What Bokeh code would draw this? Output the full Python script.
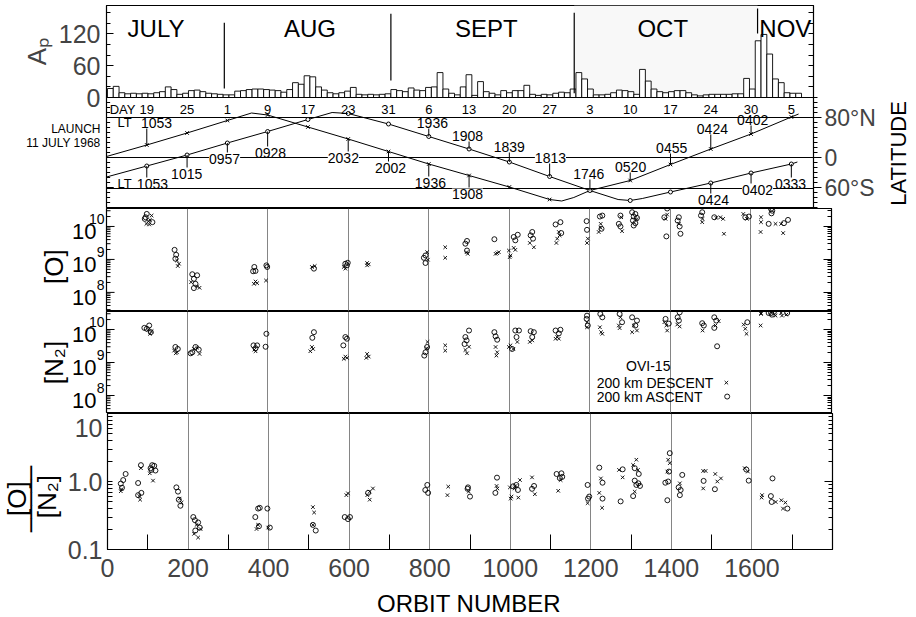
import math
from bokeh.plotting import figure
from bokeh.models import (ColumnDataSource, FixedTicker, LinearAxis, LogAxis, LabelSet,
                          Range1d, CustomJSTickFormatter, BoxAnnotation, Span)
from bokeh.layouts import column, row
from bokeh.embed import file_html
from bokeh.resources import INLINE
from bokeh.core.properties import value

FONT = "Liberation Sans"

# ---------------- data: daily Ap index (one bar per day since launch) ----------------
ap_daily = [17, 21, 9, 7, 8, 7, 8, 7, 9, 11,
            20, 15, 6, 8, 13, 14, 11, 8, 7, 6,
            5, 5, 12, 13, 15, 16, 16, 15, 14, 13,
            10, 15, 28, 25, 41, 39, 20, 14, 9, 7,
            9, 12, 19, 6, 5, 6, 5, 6, 7, 15,
            13, 11, 18, 14, 13, 19, 20, 47, 16, 8,
            5, 20, 43, 4, 30, 11, 8, 5, 13, 9,
            13, 13, 23, 6, 4, 6, 5, 8, 10, 9,
            16, 47, 35, 16, 5, 5, 6, 9, 14, 13,
            11, 6, 53, 31, 16, 11, 9, 11, 13, 13,
            9, 5, 3, 5, 6, 6, 6, 6, 7, 7,
            36, 16, 107, 119, 82, 35, 28, 9, 8, 8]
month_names = ["JULY", "AUG", "SEPT", "OCT", "NOV"]
month_label_day = [8.4, 35.0, 65.5, 96.0, 117.2]
month_boundary_day = [20.2, 49.0, 80.7, 112.4]
month_line_low = [17, 32, 8, 121]
month_line_high = [141, 158, 160, 168]

# ---------------- data: perigee latitude / local time panel ----------------
day_tick_orbit = [100, 200, 300, 400, 500, 600, 700, 800, 900, 1000, 1100, 1200, 1300, 1400, 1500, 1600, 1700]
day_tick_label = ["19", "25", "1", "9", "17", "23", "31", "6", "13", "20", "27", "3", "10", "17", "24", "30", "5"]

curve_a_orbit = [0, 100, 200, 300, 360, 400, 500, 600, 700, 800, 900, 1000, 1100, 1130, 1160, 1200, 1300, 1400, 1500, 1600, 1700, 1718]
curve_a_lat = [2, 25, 49, 74, 89, 85, 61, 37, 12, -13, -36, -59, -84, -87, -80, -66, -46, -14, 17, 47, 81, 87]
curve_b_orbit = [0, 100, 200, 300, 400, 500, 560, 600, 700, 800, 900, 1000, 1100, 1200, 1270, 1300, 1330, 1400, 1500, 1600, 1700, 1715]
curve_b_lat = [-39, -17, 5, 29, 52, 76, 90, 88, 67, 42, 17, -9, -38, -66, -84, -86, -82, -69, -51, -31, -13, -9]

lt_text = ["1053", "1053", "1015", "0957", "0928", "2032", "2002", "1936", "1936", "1908", "1908",
           "1839", "1813", "1746", "0520", "0455", "0424", "0402", "0424", "0402", "0333"]
lt_orbit = [124, 114, 199, 293, 407, 588, 705, 804, 809, 896, 896, 1000, 1102, 1197, 1301, 1403, 1504, 1604, 1507, 1616, 1698]
lt_lat = [70, -52, -32, -2, 10, 0, -20, -50, 70, 44, -72, 22, 0, -32, -18, 20, 58, 76, -84, -64, -52]
lt_curve = ["A", "B", "B", "B", "B", "A", "A", "A", "B", "B", "A", "B", "B", "B", "A", "A", "A", "A", "B", "B", "B"]
lt_point = [100, 100, 200, 300, 400, 600, 700, 800, 800, 900, 900, 1000, 1100, 1200, 1300, 1400, 1500, 1600, 1500, 1600, 1700]
lt_on_line = [False, False, False, True, False, True, False, False, False, False, True,
              False, True, False, False, False, False, False, False, True, False]
ref_lat = [80, 0, -62]
lat_major = [-60, 0, 80]
lat_minor = list(range(-100, 121, 10))

# ---------------- data: [O] density (cm^-3) ----------------
o_asc_orbit = [100, 97, 95, 114, 169, 173, 171, 213, 225, 217, 221, 217, 367, 370, 364, 397, 399, 515, 593, 597, 599,
               792, 788, 792, 895, 891, 895, 963, 1011, 1021, 1015, 1057, 1053, 1059, 1115, 1127, 1129, 1192, 1193,
               1225, 1231, 1229, 1276, 1272, 1276, 1305, 1313, 1309, 1317, 1307, 1313, 1309, 1392, 1385, 1390,
               1421, 1418, 1423, 1425, 1479, 1476, 1509, 1586, 1595, 1644, 1650, 1653, 1651, 1682, 1692]
o_asc = [2.4e10, 1.9e10, 1.7e10, 1.35e10, 1.95e9, 1.38e9, 1.05e9, 3.55e8, 3.3e8, 2.57e8, 1.82e8, 1.35e8, 5.9e8, 4.47e8,
         4.37e8, 6.6e8, 5.9e8, 5.25e8, 7.4e8, 6.6e8, 7.9e8, 1.32e9, 1.12e9, 7.8e8, 3.63e9, 3.0e9, 1.86e9, 4.1e9, 4.8e9,
         5.6e9, 3.8e9, 6.8e9, 5.37e9, 4.27e9, 1.15e10, 1.35e10, 6.3e9, 1.45e10, 7.9e9, 2.0e10, 2.14e10, 8.5e9, 2.14e10,
         1.2e10, 1.0e10, 2.7e10, 2.4e10, 2.0e10, 1.82e10, 1.51e10, 1.26e10, 1.07e10, 3.5e10, 1.9e10, 5.0e9, 1.9e10,
         1.51e10, 1.0e10, 6.0e9, 2.7e10, 2.14e10, 1.9e10, 1.9e10, 2.0e10, 1.2e10, 3.4e10, 3.0e10, 2.5e10, 1.26e10, 1.58e10]
o_desc_orbit = [112, 104, 108, 99, 106, 175, 180, 177, 210, 225, 231, 370, 374, 366, 396, 510, 517, 589, 593, 647, 651,
                647, 796, 798, 841, 841, 894, 897, 966, 970, 974, 999, 1003, 1001, 1011, 1015, 1051, 1061, 1123, 1125,
                1119, 1117, 1195, 1193, 1227, 1227, 1222, 1278, 1280, 1316, 1392, 1388, 1421, 1480, 1479, 1514, 1524,
                1531, 1533, 1581, 1590, 1625, 1625, 1624, 1661, 1675, 1680]
o_desc = [2.14e10, 1.45e10, 1.58e10, 1.2e10, 1.15e10, 9.3e8, 7.4e8, 6.3e8, 2.04e8, 1.51e8, 1.38e8, 2.14e8, 1.9e8, 1.82e8,
          2.29e8, 5.9e8, 6.3e8, 5.9e8, 5.25e8, 7.8e8, 7.1e8, 6.6e8, 1.66e9, 9.8e8, 2.34e9, 1.12e9, 1.66e9, 1.48e9,
          1.48e9, 1.55e9, 1.66e9, 1.86e9, 1.32e9, 1.17e9, 2.24e9, 1.95e9, 3.16e9, 2.34e9, 6.8e9, 5.37e9, 4.27e9, 3.16e9,
          4.27e9, 3.16e9, 1.2e10, 9.1e9, 6.8e9, 1.9e10, 7.2e9, 1.66e10, 2.29e10, 1.7e10, 1.2e10, 1.7e10, 1.35e10,
          1.82e10, 1.9e10, 1.7e10, 6.0e9, 2.4e10, 1.7e10, 1.9e10, 1.35e10, 6.8e9, 1.2e10, 1.2e10, 6.3e9]

# ---------------- data: [N2] density (cm^-3) ----------------
n2_asc_orbit = [106, 100, 110, 94, 171, 177, 213, 221, 229, 209, 365, 374, 370, 397, 395, 515, 511, 593, 597, 588, 796,
                792, 789, 900, 891, 894, 889, 963, 966, 970, 1015, 1024, 1018, 1007, 1053, 1061, 1057, 1115, 1127, 1123,
                1193, 1192, 1195, 1226, 1231, 1274, 1280, 1305, 1317, 1313, 1388, 1396, 1423, 1418, 1421, 1479, 1483,
                1509, 1514, 1509, 1516, 1591, 1644, 1650, 1652, 1657, 1690]
n2_asc = [1.32e10, 1.05e10, 8.3e9, 1.12e10, 2.95e9, 2.57e9, 2.04e9, 2.95e9, 2.45e9, 1.9e9, 3.3e9, 3.3e9, 2.7e9, 7.4e9,
          3.0e9, 8.3e9, 5.6e9, 5.9e9, 5.25e9, 3.3e9, 2.95e9, 2.04e9, 1.62e9, 9.3e9, 5.9e9, 4.68e9, 3.63e9, 8.3e9, 6.2e9,
          4.9e9, 9.3e9, 9.3e9, 5.9e9, 2.57e9, 8.9e9, 8.3e9, 5.9e9, 9.3e9, 9.8e9, 7.6e9, 2.63e10, 2.09e10, 1.32e10,
          2.95e10, 2.34e10, 2.95e10, 1.66e10, 2.34e10, 1.86e10, 1.32e10, 2.09e10, 1.51e10, 3.3e10, 2.34e10, 1.86e10,
          1.55e10, 1.32e10, 2.34e10, 1.86e10, 1.12e10, 3.1e9, 1.66e10, 3.16e10, 3.16e10, 2.82e10, 3.4e10, 3.16e10]
n2_desc_orbit = [104, 108, 112, 168, 175, 172, 217, 225, 231, 367, 370, 510, 506, 513, 593, 597, 589, 647, 651, 645, 797,
                 795, 841, 841, 891, 895, 900, 966, 970, 968, 1003, 1010, 999, 1020, 1051, 1057, 1119, 1123, 1115, 1193,
                 1193, 1225, 1228, 1231, 1276, 1272, 1274, 1309, 1305, 1317, 1385, 1390, 1392, 1423, 1417, 1480, 1520,
                 1512, 1582, 1586, 1589, 1625, 1625, 1624, 1661, 1675, 1677, 1688]
n2_desc = [9.8e9, 7.4e9, 8.9e9, 2.29e9, 2.04e9, 1.9e9, 2.57e9, 2.82e9, 1.82e9, 2.45e9, 2.19e9, 2.95e9, 2.19e9, 2.57e9,
           1.51e9, 1.38e9, 1.29e9, 1.82e9, 1.51e9, 1.38e9, 4.2e9, 2.7e9, 3.3e9, 2.29e9, 2.4e9, 1.9e9, 3.0e9, 2.95e9,
           2.04e9, 1.62e9, 3.3e9, 2.57e9, 2.95e9, 4.2e9, 4.2e9, 4.68e9, 5.9e9, 5.25e9, 5.25e9, 1.66e10, 1.17e10,
           1.17e10, 8.3e9, 7.4e9, 2.34e10, 1.32e10, 1.1e10, 1.32e10, 8.3e9, 9.3e9, 1.66e10, 1.32e10, 9.3e9, 1.23e10,
           1.41e10, 9.3e9, 1.78e10, 1.32e10, 1.41e10, 1.05e10, 7.4e9, 3.16e10, 2.95e10, 1.32e10, 2.63e10, 3.16e10,
           2.63e10, 2.82e10]

# ---------------- data: [O]/[N2] ratio ----------------
ratio_asc_orbit = [33, 39, 45, 36, 83, 76, 84, 76, 111, 116, 107, 119, 109, 171, 175, 177, 181, 213, 217, 225, 229, 218,
                   374, 378, 367, 376, 397, 403, 510, 517, 589, 597, 602, 647, 794, 789, 796, 895, 894, 900, 967, 963,
                   1015, 1019, 1007, 1059, 1054, 1115, 1127, 1123, 1129, 1192, 1193, 1196, 1221, 1229, 1229, 1279, 1274,
                   1309, 1319, 1309, 1318, 1313, 1322, 1305, 1396, 1394, 1385, 1392, 1390, 1427, 1418, 1423, 1421, 1480,
                   1508, 1592, 1586, 1647, 1651, 1649, 1688]
ratio_asc = [0.93, 1.05, 1.29, 0.81, 1.74, 0.95, 0.68, 0.63, 1.74, 1.7, 1.57, 1.45, 1.48, 0.82, 0.71, 0.54, 0.44, 0.30,
             0.27, 0.25, 0.21, 0.19, 0.40, 0.41, 0.30, 0.22, 0.40, 0.21, 0.23, 0.19, 0.30, 0.28, 0.30, 0.68, 0.89, 0.75,
             0.68, 0.82, 0.78, 0.60, 1.14, 0.68, 0.89, 0.75, 0.85, 0.86, 0.78, 1.29, 1.32, 1.12, 1.17, 0.89, 0.56, 0.60,
             1.6, 0.96, 0.56, 1.51, 0.51, 1.57, 1.29, 1.03, 0.94, 0.89, 0.86, 0.61, 2.61, 1.4, 0.96, 1.0, 0.53, 1.25,
             0.82, 0.75, 0.63, 1.02, 0.77, 1.03, 1.5, 0.61, 1.11, 0.50, 0.40]
ratio_desc_orbit = [35, 33, 83, 79, 81, 105, 113, 179, 184, 221, 215, 225, 231, 374, 370, 399, 510, 513, 510, 593, 597,
                    651, 659, 651, 645, 846, 844, 897, 966, 968, 999, 1003, 1001, 1024, 1020, 1011, 1013, 1054, 1061,
                    1125, 1119, 1192, 1225, 1221, 1228, 1270, 1279, 1313, 1305, 1317, 1309, 1392, 1396, 1390, 1421,
                    1479, 1485, 1479, 1509, 1523, 1514, 1582, 1590, 1625, 1624, 1659, 1673, 1683, 1677]
ratio_desc = [0.77, 0.72, 1.57, 0.61, 0.54, 1.32, 1.03, 0.56, 0.49, 0.23, 0.17, 0.15, 0.20, 0.23, 0.20, 0.21, 0.42,
              0.35, 0.23, 0.63, 0.67, 0.71, 0.79, 0.54, 0.63, 0.84, 0.63, 0.71, 0.86, 0.79, 0.82, 0.60, 0.56, 1.05,
              0.58, 0.79, 0.86, 1.15, 0.65, 1.05, 0.73, 0.48, 1.11, 0.68, 0.41, 1.48, 1.15, 2.09, 1.75, 1.48, 0.71,
              2.09, 1.86, 1.4, 0.94, 1.43, 1.43, 0.79, 1.29, 1.11, 1.0, 1.57, 1.4, 0.63, 0.58, 0.50, 0.53, 0.49, 0.40]

orbit_ticks = [0, 200, 400, 600, 800, 1000, 1200, 1400, 1600]
orbit_minor = [100, 300, 500, 700, 900, 1100, 1300, 1500, 1700]
grid_orbits = [200, 400, 600, 800, 1000, 1200, 1400, 1600]
dens_ticks = [1e8, 1e9, 1e10]
dens_exponents = ["8", "9", "10"]


# ---------------- helpers ----------------
def blank():
    return CustomJSTickFormatter(code="return '';")


def style_panel(p):
    p.outline_line_color = "black"
    p.outline_line_width = 1.2
    p.outline_line_alpha = 1


def inward(ax, major=6, minor=3):
    ax.major_tick_in = major
    ax.major_tick_out = 0
    ax.minor_tick_in = minor
    ax.minor_tick_out = 0
    ax.axis_line_color = "black"
    ax.major_tick_line_color = "black"
    ax.minor_tick_line_color = "black"


def text_strip(width, height, y_range, y_type="linear"):
    s = figure(frame_width=width, frame_height=height, x_range=Range1d(0, width), y_range=y_range,
               y_axis_type=y_type, x_axis_location=None, y_axis_location=None,
               output_backend="svg", toolbar_location=None, min_border=0,
               background_fill_alpha=0, border_fill_alpha=0)
    s.outline_line_color = None
    s.grid.visible = False
    return s


# ================= Panel 1 : Ap =================
p1 = figure(frame_width=707, frame_height=92, x_range=Range1d(-0.17, 122.07), y_range=Range1d(0, 173.6),
            x_axis_location=None, y_axis_location="left", output_backend="svg", toolbar_location=None,
            min_border_left=106, min_border_right=12, min_border_top=5, min_border_bottom=16)
style_panel(p1)
p1.grid.visible = False
p1.add_layout(BoxAnnotation(left=month_boundary_day[2], right=month_boundary_day[3], fill_color="#f8f8f8",
                            fill_alpha=1, line_alpha=0, level="underlay"))
days = list(range(len(ap_daily)))
p1.quad(left=days, right=[d + 1 for d in days], bottom=0, top=ap_daily,
        fill_color="white", line_color="black", line_width=0.9)
p1.segment(x0=month_boundary_day, y0=month_line_low, x1=month_boundary_day, y1=month_line_high,
           line_color="black", line_width=1.2)
p1.text(x=month_label_day, y=[130] * len(month_names), text=month_names, text_font=value(FONT),
        text_font_size="24px", text_align="center", text_baseline="middle", text_color="black")
ya = p1.yaxis[0]
ya.ticker = FixedTicker(ticks=[0, 60, 120], minor_ticks=[20, 40, 80, 100, 140, 160])
inward(ya, 7, 4)
ya.major_label_text_font = FONT
ya.major_label_text_font_size = "25px"
ya.major_label_standoff = 6
ya.axis_label = "Aₚ"
ya.axis_label_text_font = FONT
ya.axis_label_text_font_size = "26px"
ya.axis_label_text_font_style = "normal"
ya.axis_label_standoff = 4
ra1 = LinearAxis(ticker=FixedTicker(ticks=list(range(0, 161, 20))), formatter=blank())
inward(ra1, 5, 3)
p1.add_layout(ra1, "right")

# ================= Panel 2 : latitude / local time =================
lat_range = Range1d(-102, 120)
p2 = figure(frame_width=707, frame_height=111, x_range=Range1d(0, 1755), y_range=lat_range,
            x_axis_location=None, y_axis_location=None, output_backend="svg", toolbar_location=None,
            min_border_left=1, min_border_right=72, min_border_top=0, min_border_bottom=0,
            border_fill_alpha=0)
style_panel(p2)
p2.grid.visible = False
for lat in ref_lat:
    p2.add_layout(Span(location=lat, dimension="width", line_color="black", line_width=1, level="underlay"))
p2.segment(x0=[0] * len(lat_minor), y0=lat_minor, x1=[9] * len(lat_minor), y1=lat_minor,
           line_color="black", line_width=1)
p2.segment(x0=[0] * len(lat_major), y0=lat_major, x1=[18] * len(lat_major), y1=lat_major,
           line_color="black", line_width=1)
p2.line(curve_a_orbit, curve_a_lat, line_color="black", line_width=1)
p2.line(curve_b_orbit, curve_b_lat, line_color="black", line_width=1)
a_pts = [(o, l) for o, l in zip(curve_a_orbit, curve_a_lat) if o % 100 == 0 and 0 < o < 1750]
b_pts = [(o, l) for o, l in zip(curve_b_orbit, curve_b_lat) if o % 100 == 0 and 0 < o < 1750]
p2.scatter([o for o, _ in a_pts], [l for _, l in a_pts], marker="x", size=5, line_color="black", line_width=1)
p2.scatter([o for o, _ in b_pts], [l for _, l in b_pts], marker="circle", size=4, fill_color="white",
           line_color="black", line_width=1)
curves = {"A": dict(zip(curve_a_orbit, curve_a_lat)), "B": dict(zip(curve_b_orbit, curve_b_lat))}
lx, ly0, ly1 = [], [], []
for c, po, la in zip(lt_curve, lt_point, lt_lat):
    cl = curves[c][po]
    lx.append(po)
    ly0.append(cl)
    ly1.append(la + 12 if cl > la else la - 12)
p2.segment(x0=lx, y0=ly0, x1=lx, y1=ly1, line_color="black", line_width=1)

src_plain = ColumnDataSource(dict(x=[o for o, b in zip(lt_orbit, lt_on_line) if not b],
                                  y=[l for l, b in zip(lt_lat, lt_on_line) if not b],
                                  text=[t for t, b in zip(lt_text, lt_on_line) if not b]))
src_box = ColumnDataSource(dict(x=[o for o, b in zip(lt_orbit, lt_on_line) if b],
                                y=[l for l, b in zip(lt_lat, lt_on_line) if b],
                                text=[t for t, b in zip(lt_text, lt_on_line) if b]))
p2.add_layout(LabelSet(x="x", y="y", text="text", source=src_plain, text_align="center", text_baseline="middle",
                       text_font=value(FONT), text_font_size="14px", text_color="black"))
p2.add_layout(LabelSet(x="x", y="y", text="text", source=src_box, text_align="center", text_baseline="middle",
                       text_font=value(FONT), text_font_size="14px", text_color="black",
                       background_fill_color="white", background_fill_alpha=1))
p2.text(x=day_tick_orbit, y=[96] * len(day_tick_orbit), text=day_tick_label, text_font=value(FONT),
        text_font_size="13px", text_align="center", text_baseline="middle", text_color="black")
p2.text(x=[40, 45, 45], y=[96, 70, -52], text=["DAY", "LT", "LT"], text_font=value(FONT),
        text_font_size="13px", text_align="center", text_baseline="middle", text_color="black")
ra2 = LinearAxis(ticker=FixedTicker(ticks=lat_major, minor_ticks=lat_minor),
                 major_label_overrides={-60: "60°S", 0: "0", 80: "80°N"})
ra2.major_tick_in = 0
ra2.major_tick_out = 8
ra2.minor_tick_in = 0
ra2.minor_tick_out = 4
ra2.major_label_text_font = FONT
ra2.major_label_text_font_size = "23px"
ra2.major_label_standoff = 3
p2.add_layout(ra2, "right")

p2_left = text_strip(105, 111, lat_range)
p2_left.text(x=[100, 100], y=[58, 30], text=["LAUNCH", "11 JULY 1968"], text_font=value(FONT),
             text_font_size="12px", text_align="right", text_baseline="middle", text_color="black")
p2_right = text_strip(30, 111, lat_range)
p2_right.text(x=[13], y=[8], text=["LATITUDE"], angle=math.pi / 2, text_font=value(FONT),
              text_font_size="22px", text_align="center", text_baseline="middle", text_color="black")
row2 = row(p2_left, p2, p2_right, spacing=0)
row2.margin = (-16, 0, 0, 0)

# ================= Log panels =================
xr = Range1d(0, 1800)
dens_minor = [m * 10 ** e for e in range(7, 11) for m in range(2, 10)]


def density_panel(height, y_range, desc_x, desc_y, asc_x, asc_y, left_border=1, left_axis=False,
                  bottom_axis=False, bottom_border=0):
    p = figure(frame_width=725, frame_height=height, x_range=xr, y_range=y_range, y_axis_type="log",
               x_axis_location="below" if bottom_axis else None, y_axis_location="left" if left_axis else None,
               output_backend="svg", toolbar_location=None, min_border_left=left_border,
               min_border_right=12, min_border_top=0, min_border_bottom=bottom_border)
    style_panel(p)
    p.ygrid.visible = False
    p.xgrid.ticker = FixedTicker(ticks=grid_orbits)
    p.xgrid.grid_line_color = "#666666"
    p.xgrid.grid_line_width = 1
    p.xgrid.grid_line_alpha = 0.8
    p.scatter(desc_x, desc_y, marker="x", size=5, line_color="black", line_width=0.9)
    p.scatter(asc_x, asc_y, marker="circle", size=5, fill_color=None, line_color="black", line_width=0.9)
    return p


def density_with_labels(height, lo_exp, label, label_value, desc_x, desc_y, asc_x, asc_y):
    yr = Range1d(10 ** lo_exp, 10 ** 10.545)
    p = density_panel(height, yr, desc_x, desc_y, asc_x, asc_y)
    # inward ticks on the left frame edge
    p.segment(x0=[0] * len(dens_minor), y0=dens_minor, x1=[10] * len(dens_minor), y1=dens_minor,
              line_color="black", line_width=1)
    p.segment(x0=[0] * len(dens_ticks), y0=dens_ticks, x1=[20] * len(dens_ticks), y1=dens_ticks,
              line_color="black", line_width=1)
    rax = LogAxis(ticker=FixedTicker(ticks=dens_ticks, minor_ticks=dens_minor), formatter=blank())
    inward(rax, 8, 4)
    p.add_layout(rax, "right")
    s = text_strip(105, height, yr, "log")
    # "10" with its exponent set up and to the right, as lettered in the original
    s.text(x=[96] * 3, y=[t * 0.7 for t in dens_ticks], text=["10"] * 3, text_font=value(FONT),
           text_font_size="22px", text_align="right", text_baseline="middle", text_color="black")
    s.text(x=[104] * 3, y=[t * 1.7 for t in dens_ticks], text=dens_exponents, text_font=value(FONT),
           text_font_size="14px", text_align="right", text_baseline="middle", text_color="black")
    s.text(x=[53], y=[label_value], text=[label], angle=math.pi / 2, text_font=value(FONT),
           text_font_size="26px", text_align="center", text_baseline="middle", text_color="black")
    return row(s, p, spacing=0), p


row3, p3 = density_with_labels(103, 7.42, "[O]", 6e8, o_desc_orbit, o_desc, o_asc_orbit, o_asc)
row4, p4 = density_with_labels(102, 7.455, "[N₂]", 1e9, n2_desc_orbit, n2_desc, n2_asc_orbit, n2_asc)

# legend inside [N2] panel
p4.text(x=[1345], y=[7.6e8], text=["OVI-15"], text_font=value(FONT), text_font_size="14px",
        text_align="center", text_baseline="middle", text_color="black")
p4.text(x=[1217, 1217], y=[2.45e8, 9.3e7], text=["200 km  DESCENT", "200 km  ASCENT"], text_font=value(FONT),
        text_font_size="14px", text_align="left", text_baseline="middle", text_color="black")
p4.scatter([1539], [2.45e8], marker="x", size=5, line_color="black", line_width=0.9)
p4.scatter([1541], [9.3e7], marker="circle", size=5, fill_color=None, line_color="black", line_width=0.9)

# ================= Ratio panel =================
ratio_range = Range1d(0.1, 10)
p5 = density_panel(136, ratio_range, ratio_desc_orbit, ratio_desc, ratio_asc_orbit, ratio_asc,
                   left_border=42, left_axis=True, bottom_axis=True, bottom_border=40)
ratio_minor = [m * 10 ** e for e in (-1, 0) for m in range(2, 10)] + [1, 10]
ax5 = p5.yaxis[0]
inward(ax5, 0, 5)
# the "10" label of the reference sits a little below the top edge
ax5.ticker = FixedTicker(ticks=[0.1, 1, 6.2], minor_ticks=ratio_minor)
ax5.formatter = CustomJSTickFormatter(code="if (tick > 5) return '10'; return tick > 0.5 ? '1.0' : '0.1';")
ax5.major_label_text_font = FONT
ax5.major_label_text_font_size = "25px"
ax5.major_label_standoff = 5
rax5 = LogAxis(ticker=FixedTicker(ticks=[0.1, 1, 10], minor_ticks=ratio_minor[:-2]), formatter=blank())
inward(rax5, 8, 4)
p5.add_layout(rax5, "right")
xa = p5.xaxis[0]
xa.ticker = FixedTicker(ticks=orbit_ticks, minor_ticks=orbit_minor)
xa.major_tick_in = 0
xa.major_tick_out = 0
xa.minor_tick_in = 15
xa.minor_tick_out = 0
xa.axis_line_color = "black"
xa.major_label_text_font = FONT
xa.major_label_text_font_size = "25px"
xa.major_label_standoff = 9

p5_left = text_strip(64, 136, ratio_range, "log")
p5_left.text(x=[16, 46], y=[0.56, 0.60], text=["[O]", "[N₂]"], angle=math.pi / 2, text_font=value(FONT),
             text_font_size="26px", text_align="center", text_baseline="middle", text_color="black")
p5_left.text(x=[31], y=[0.55], text=["\u2500" * 5], angle=math.pi / 2, text_font=value("DejaVu Sans Mono"),
             text_font_size="22px", text_align="center", text_baseline="middle", text_color="black")

# axis title below, in its own strip whose frame lines up with the panels
xlabel = figure(frame_width=725, frame_height=28, x_range=Range1d(0, 725), y_range=Range1d(0, 28),
                x_axis_location=None, y_axis_location=None, output_backend="svg", toolbar_location=None,
                min_border_left=106, min_border_right=0, min_border_top=0, min_border_bottom=0)
xlabel.outline_line_color = None
xlabel.grid.visible = False
xlabel.text(x=[362.5], y=[14], text=["ORBIT NUMBER"], text_font=value(FONT), text_font_size="24px",
            text_align="center", text_baseline="middle", text_color="black")

layout = column(p1, row2, row3, row4, row(p5_left, p5, spacing=0), xlabel, spacing=0)
open("out.html", "w", encoding="utf-8").write(file_html(layout, INLINE))
